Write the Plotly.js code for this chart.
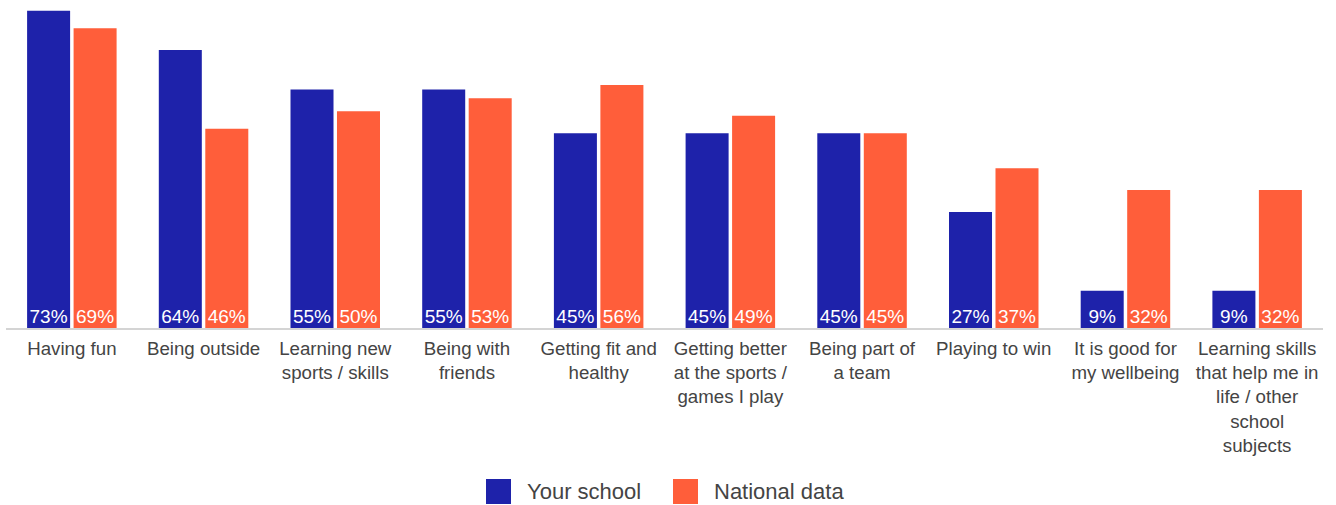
<!DOCTYPE html>
<html>
<head>
<meta charset="utf-8">
<script src="https://cdn.plot.ly/plotly-3.0.1.min.js"></script>
<style>html,body{margin:0;padding:0;background:#fff;}#chart{width:1336px;height:505px;}</style>
</head>
<body>
<div id="chart"></div>
<script>
var categories = [
  "Having fun",
  "Being outside",
  "Learning new<br>sports / skills",
  "Being with<br>friends",
  "Getting fit and<br>healthy",
  "Getting better<br>at the sports /<br>games I play",
  "Being part of<br>a team",
  "Playing to win",
  "It is good for<br>my wellbeing",
  "Learning skills<br>that help me in<br>life / other<br>school<br>subjects"
];
var yourSchool = [73, 64, 55, 55, 45, 45, 45, 27, 9, 9];
var nationalData = [69, 46, 50, 53, 56, 49, 45, 37, 32, 32];
var seriesNames = ["Your school", "National data"];

var W = 1336, H = 505;
var M = {l: 6, r: 13, t: 0, b: 175};
var PW = W - M.l - M.r, PH = H - M.t - M.b;
function px(x) { return (x - M.l) / PW; }
function py(y) { return (H - M.b - y) / PH; }

var BLUE = "#1E22AA", ORANGE = "#FF5E3A";
var FONT = "'Liberation Sans', Arial, sans-serif";

function barTrace(name, vals, color) {
  return {
    type: "bar",
    name: name,
    x: categories,
    y: vals,
    marker: {color: color},
    text: vals.map(function (v) { return v + "%"; }),
    textposition: "inside",
    insidetextanchor: "start",
    textangle: 0,
    constraintext: "none",
    textfont: {color: "#ffffff", size: 19, family: FONT},
    hoverinfo: "x+y",
    showlegend: false
  };
}

var data = [
  barTrace(seriesNames[0], yourSchool, BLUE),
  barTrace(seriesNames[1], nationalData, ORANGE)
];

var legendItems = [
  {name: seriesNames[0], color: BLUE, sx: 486, tx: 526},
  {name: seriesNames[1], color: ORANGE, sx: 673, tx: 713}
];

var shapes = [{
  type: "line", xref: "paper", yref: "y",
  x0: 0, x1: 1, y0: 0, y1: 0,
  line: {color: "#d4d4d4", width: 4},
  layer: "above"
}];
var annotations = [];
legendItems.forEach(function (it) {
  shapes.push({
    type: "rect", xref: "paper", yref: "paper",
    x0: px(it.sx), x1: px(it.sx + 25), y0: py(504), y1: py(479),
    fillcolor: it.color, line: {width: 0}
  });
  annotations.push({
    xref: "paper", yref: "paper", x: px(it.tx - 1), y: py(491.5),
    xanchor: "left", yanchor: "middle", showarrow: false,
    text: it.name, font: {size: 22, color: "#444444", family: FONT}
  });
});

var layout = {
  width: W, height: H,
  margin: M,
  paper_bgcolor: "#ffffff",
  plot_bgcolor: "#ffffff",
  font: {family: FONT, color: "#444444"},
  barmode: "group",
  bargap: 0.294,
  bargroupgap: 0.075,
  showlegend: false,
  xaxis: {
    type: "category",
    showgrid: false, zeroline: false, showline: false, ticks: "",
    tickfont: {size: 18.7, color: "#444444", family: FONT},
    ticklabelstandoff: 5,
    automargin: false
  },
  yaxis: {
    range: [0, PH / 4.375],
    visible: false, showgrid: false, zeroline: false, fixedrange: true
  },
  shapes: shapes,
  annotations: annotations
};

Plotly.newPlot("chart", data, layout, {displayModeBar: false, staticPlot: true});
</script>
</body>
</html>
